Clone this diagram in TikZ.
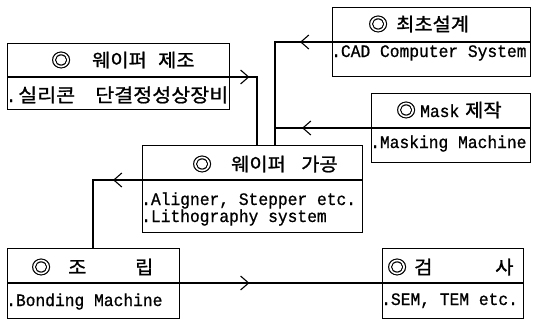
\documentclass[tikz,border=0pt]{standalone}
\usepackage{fontspec}
\setmainfont{Liberation Mono}[FakeStretch=0.93,FakeBold=0.8]
\newfontfamily\kr{Noto Sans CJK KR}[FakeBold=1.2,FakeStretch=1.07]
\newfontfamily\krb{Noto Sans CJK KR}[FakeBold=1.0,FakeStretch=1.1]
\usetikzlibrary{arrows.meta,decorations.markings}
\tikzset{
  box/.style={draw, line width=1.4pt, rectangle, inner sep=0pt, anchor=north west},
  divline/.style={line width=1.4pt},
  conn/.style={line width=1.2pt},
  chev/.style={postaction={decorate}, decoration={markings,
      mark=at position #1 with {\arrow[line width=1.1pt]{Straight Barb[length=8pt,width=14pt]}}}},
  kh/.style={inner sep=0pt, anchor=base west, font=\kr\fontsize{18.5}{18.5}\selectfont},
  kb/.style={inner sep=0pt, anchor=base west, font=\krb\fontsize{18.8}{18.8}\selectfont},
  lt/.style={inner sep=0pt, anchor=base west, font=\fontsize{17.5}{17.5}\selectfont},
  lt2/.style={lt, text height=11pt, text depth=3pt},
}
\begin{document}
\begin{tikzpicture}[x=1pt,y=-1pt]
\useasboundingbox (0,0) rectangle (534,321);
% boxes
\node[box, minimum width=222pt, minimum height=66pt] (b1) at (7,43) {};
\node[box, minimum width=198pt, minimum height=69pt] (b2) at (332,7) {};
\node[box, minimum width=159pt, minimum height=69pt] (b3) at (371,93) {};
\node[box, minimum width=220pt, minimum height=87pt] (b4) at (142,145) {};
\node[box, minimum width=172pt, minimum height=70pt] (b5) at (7,248) {};
\node[box, minimum width=141pt, minimum height=70pt] (b6) at (382,248) {};
% divider levels
\coordinate (y1) at (0,77);
\coordinate (y2) at (0,42);
\coordinate (y3) at (0,128);
\coordinate (y4) at (0,180);
\coordinate (y5) at (0,283);
\draw[divline] (b1.west |- y1) -- (b1.east |- y1);
\draw[divline] (b2.west |- y2) -- (b2.east |- y2);
\draw[divline] (b3.west |- y3) -- (b3.east |- y3);
\draw[divline] (b4.west |- y4) -- (b4.east |- y4);
\draw[divline] (b5.west |- y5) -- (b5.east |- y5);
\draw[divline] (b6.west |- y5) -- (b6.east |- y5);
% headers
\node[kh] (h1a) at (51,67) {◎};
\node[kh] (h1b) at (92,67) {웨이퍼};
\node[kh] (h1c) at (158,67) {제조};
\node[kh] (h2a) at (368,31) {◎};
\node[kh] (h2b) at (396,31) {최초설계};
\node[kh] (h3a) at (396,117) {◎};
\node[lt] (h3b) at (420,117) {Mask};
\node[kh] (h3c) at (465,117) {제작};
\node[kh] (h4a) at (192,171) {◎};
\node[kh] (h4b) at (231,171) {웨이퍼};
\node[kh] (h4c) at (301,171) {가공};
\node[kh] (h5a) at (31,274) {◎};
\node[kh] (h5b) at (68,274) {조};
\node[kh] (h5c) at (135,274) {립};
\node[kh] (h6a) at (387,274) {◎};
\node[kh] (h6b) at (414,274) {검};
\node[kh] (h6c) at (495,274) {사};
% bodies
\node[lt] (t1a) at (6,102) {.};
\node[kb] (t1b) at (18,102) {실리콘};
\node[kb] (t1c) at (95,102) {단결정성상장비};
\node[lt] (t2) at (331,57) {.CAD Computer System};
\node[lt] (t3) at (370,148) {.Masking Machine};
\node[lt2] (t4a) at (141,205) {.Aligner, Stepper etc.};
\node[lt2] (t4b) at (141,222) {.Lithography system};
\node[lt] (t5) at (6,306) {.Bonding Machine};
\node[lt] (t6) at (381,305) {.SEM, TEM etc.};
% connectors
\coordinate (k1) at (257,77);
\coordinate (k2) at (275,42);
\coordinate (k3) at (275,128);
\coordinate (k4) at (93,180);
\draw[conn, chev=19pt] (b1.east |- y1) -- (k1) -- (k1 |- b4.north);
\draw[conn, chev=32pt] (b2.west |- y2) -- (k2) -- (k2 |- b4.north);
\draw[conn, chev=69pt] (b3.west |- y3) -- (k3);
\draw[conn, chev=29pt] (b4.west |- y4) -- (k4) -- (k4 |- b5.north);
\draw[conn, chev=69pt] (b5.east |- y5) -- (b6.west |- y5);
\end{tikzpicture}
\end{document}
